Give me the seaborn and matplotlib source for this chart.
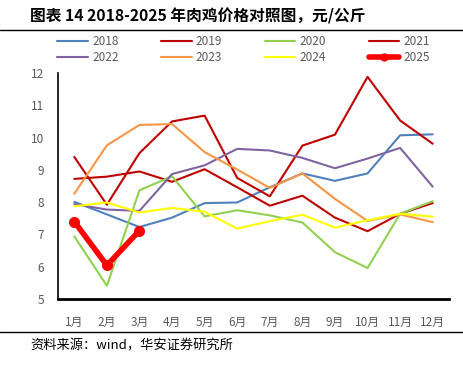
import numpy as np
import pandas as pd
import matplotlib
matplotlib.use('Agg')
import matplotlib.pyplot as plt
import seaborn as sns
from matplotlib.lines import Line2D

sns.set_style("white")
plt.rcParams['font.family'] = ['Noto Sans CJK SC', 'DejaVu Sans']

months = ['1月', '2月', '3月', '4月', '5月', '6月', '7月', '8月', '9月', '10月', '11月', '12月']
p2018 = [8.01, 7.62, 7.23, 7.52, 7.97, 7.99, 8.46, 8.89, 8.66, 8.89, 10.07, 10.10]
p2019 = [8.72, 8.79, 8.95, 8.63, 9.02, 8.46, 7.89, 8.20, 7.52, 7.10, 7.64, 7.97]
p2020 = [6.94, 5.41, 8.37, 8.80, 7.56, 7.75, 7.59, 7.37, 6.45, 5.96, 7.64, 8.03]
p2021 = [9.40, 7.92, 9.52, 10.50, 10.68, 8.75, 8.18, 9.75, 10.09, 11.88, 10.53, 9.81]
p2022 = [7.94, 7.77, 7.73, 8.87, 9.14, 9.65, 9.60, 9.37, 9.05, 9.35, 9.68, 8.48]
p2023 = [8.26, 9.76, 10.39, 10.42, 9.55, 9.01, 8.44, 8.89, 8.10, 7.42, 7.62, 7.38]
p2024 = [7.87, 7.99, 7.68, 7.82, 7.70, 7.18, 7.41, 7.61, 7.21, 7.44, 7.64, 7.55]
p2025 = [7.40, 6.04, 7.12]

years = ['2018', '2019', '2020', '2021', '2022', '2023', '2024']
series = [p2018, p2019, p2020, p2021, p2022, p2023, p2024]
colors = {'2018': '#4F81BD', '2019': '#C00000', '2020': '#92D050', '2021': '#C00000',
          '2022': '#8064A2', '2023': '#F79646', '2024': '#FFFF00', '2025': '#FF0000'}

rows = []
for y, vals in zip(years, series):
    for i, v in enumerate(vals):
        rows.append({'year': y, 'm': i, 'price': v})
df = pd.DataFrame(rows)
df25 = pd.DataFrame({'m': range(len(p2025)), 'price': p2025})

fig = plt.figure(figsize=(4.64, 3.69), dpi=100)
ax = fig.add_axes([58 / 464, 70 / 369, 391 / 464, 226 / 369])

sns.lineplot(data=df, x='m', y='price', hue='year', palette=colors, hue_order=years,
             linewidth=1.5, sort=False, legend=False, ax=ax)
sns.lineplot(data=df25, x='m', y='price', color=colors['2025'], linewidth=4,
             marker='o', markersize=8, markeredgewidth=0, ax=ax)

ax.set_xlim(-0.5, 11.5)
ax.set_ylim(5, 12)
ax.set_xticks(range(12))
ax.set_xticklabels(months)
ax.set_yticks(range(5, 13))
ax.set_xlabel('')
ax.set_ylabel('')
ax.tick_params(axis='both', length=0, labelsize=8.5, colors='#595959')
ax.tick_params(axis='x', pad=12)
ax.tick_params(axis='y', pad=10)
for s in ['top', 'right']:
    ax.spines[s].set_visible(False)
ax.spines['left'].set_color('black')
ax.spines['left'].set_linewidth(1.2)
ax.spines['bottom'].set_color('black')
ax.spines['bottom'].set_linewidth(2)
ax.grid(False)

# legend: 2 rows x 4 cols filled row by row
labels = years + ['2025']
handles = {}
for y in labels:
    if y == '2025':
        handles[y] = Line2D([], [], color=colors[y], linewidth=4, marker='o', markersize=6,
                            markeredgewidth=0)
    else:
        handles[y] = Line2D([], [], color=colors[y], linewidth=1.5)
order = [0, 4, 1, 5, 2, 6, 3, 7]
fig.legend([handles[labels[i]] for i in order], [labels[i] for i in order],
           ncol=4, loc='center', bbox_to_anchor=(0.525, 0.866),
           frameon=False, fontsize=8.5, handlelength=2.6, handletextpad=0.35,
           columnspacing=3.6, labelspacing=0.25, labelcolor='#595959')

fig.text(30 / 464, 1 - 16 / 369, '图表 14 2018-2025 年肉鸡价格对照图，元/公斤', fontsize=11.3,
         fontweight='bold', va='center', ha='left', color='black')
fig.add_artist(Line2D([0, 1], [1 - 29.5 / 369, 1 - 29.5 / 369], color='black', linewidth=1,
                      transform=fig.transFigure))
fig.add_artist(Line2D([0, 1], [1 - 332 / 369, 1 - 332 / 369], color='black', linewidth=1,
                      transform=fig.transFigure))
fig.text(30 / 464, 1 - 346 / 369, '资料来源：wind，华安证券研究所', fontsize=9.5,
         va='center', ha='left', color='black')

fig.savefig('out.png', dpi=100)
